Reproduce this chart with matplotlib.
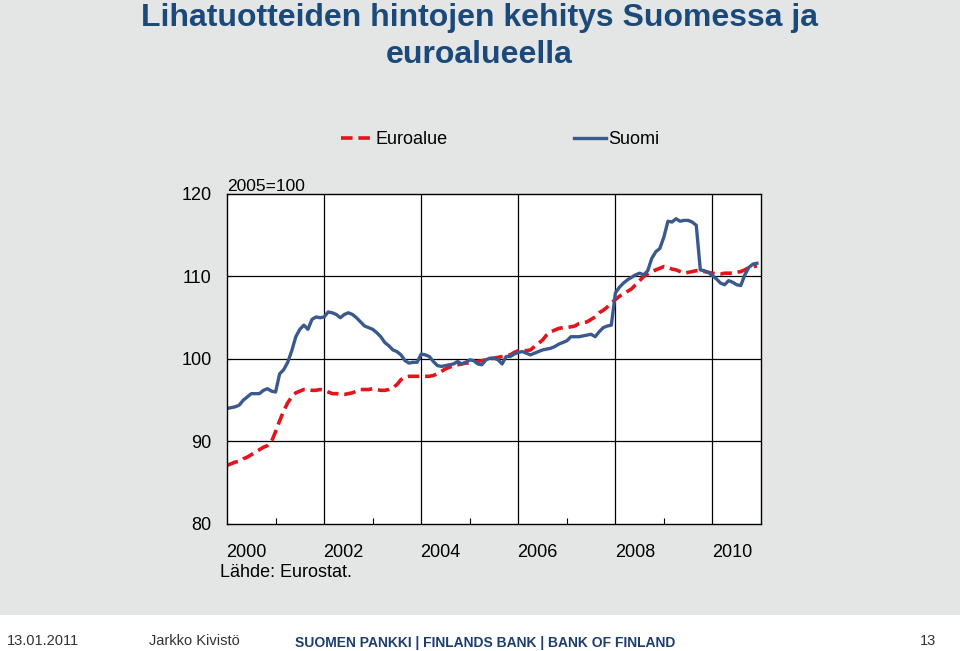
import numpy as np
import matplotlib.pyplot as plt
from matplotlib.patches import Rectangle

plt.rcParams['font.family'] = ['Liberation Sans', 'DejaVu Sans']

# monthly index 2005=100, Jan 2000 - Dec 2010
start_year = 2000
suomi = [94.0, 94.1, 94.2, 94.4, 95.0, 95.4, 95.8, 95.8, 95.8, 96.2, 96.4, 96.1,
         96.0, 98.2, 98.7, 99.6, 101.0, 102.7, 103.6, 104.1, 103.6, 104.8, 105.1, 105.0,
         105.1, 105.7, 105.6, 105.4, 105.0, 105.4, 105.6, 105.4, 105.0, 104.5, 104.0, 103.8,
         103.6, 103.2, 102.7, 102.0, 101.6, 101.1, 100.9, 100.5, 99.8, 99.5, 99.6, 99.6,
         100.6, 100.5, 100.3, 99.7, 99.2, 99.1, 99.2, 99.3, 99.4, 99.7, 99.4, 99.6,
         99.9, 99.8, 99.4, 99.3, 99.9, 100.1, 100.1, 99.9, 99.4, 100.3, 100.3, 100.6,
         100.8, 100.9, 100.7, 100.5, 100.7, 100.9, 101.1, 101.2, 101.3, 101.5, 101.8, 102.0,
         102.2, 102.7, 102.7, 102.7, 102.8, 102.9, 103.0, 102.7, 103.3, 103.8, 104.0, 104.1,
         108.0, 108.7, 109.2, 109.6, 109.9, 110.2, 110.4, 110.2, 110.7, 112.2, 113.0, 113.4,
         114.8, 116.7, 116.6, 117.0, 116.7, 116.8, 116.8, 116.6, 116.2, 110.8, 110.7, 110.5,
         110.1, 109.7, 109.2, 109.0, 109.5, 109.3, 109.0, 108.9, 110.2, 111.1, 111.5, 111.6]
euroalue = [87.1, 87.3, 87.5, 87.6, 87.9, 88.1, 88.4, 88.7, 89.0, 89.3, 89.5, 90.0,
            91.2, 92.5, 93.7, 94.7, 95.4, 95.9, 96.1, 96.3, 96.3, 96.2, 96.2, 96.3,
            96.2, 96.0, 95.8, 95.8, 95.7, 95.7, 95.8, 95.9, 96.1, 96.3, 96.3, 96.3,
            96.4, 96.3, 96.2, 96.2, 96.3, 96.5, 96.9, 97.5, 97.8, 97.9, 97.9, 97.9,
            97.9, 97.9, 97.9, 98.0, 98.2, 98.5, 98.8, 99.0, 99.2, 99.3, 99.4, 99.5,
            99.5, 99.6, 99.7, 99.8, 99.9, 100.0, 100.1, 100.2, 100.3, 100.4, 100.5, 100.8,
            101.0, 101.1, 101.0, 101.1, 101.5, 101.9, 102.3, 102.9, 103.3, 103.5, 103.7, 103.8,
            103.8, 103.9, 104.0, 104.3, 104.4, 104.5, 104.8, 105.1, 105.6, 105.9, 106.3, 106.8,
            107.2, 107.6, 107.9, 108.2, 108.5, 109.0, 109.5, 110.0, 110.3, 110.6, 110.8, 111.0,
            111.2, 111.1, 110.9, 110.8, 110.6, 110.4, 110.5, 110.6, 110.7, 110.7, 110.6, 110.5,
            110.4, 110.3, 110.3, 110.4, 110.4, 110.4, 110.5, 110.6, 110.8, 111.1, 111.2, 111.3]
year_labels = ['2000', '2002', '2004', '2006', '2008', '2010']
y_ticks = [80, 90, 100, 110, 120]

t = start_year + np.arange(len(suomi)) / 12.0

bg = '#e4e5e5'
fig = plt.figure(figsize=(9.6, 6.51), dpi=100, facecolor=bg)
ax = fig.add_axes([0.2365, 0.1951, 0.5562, 0.5069])
ax.set_facecolor('white')

l1, = ax.plot(t, euroalue, color='#e3141b', lw=2.6, ls=(0, (3.2, 1.6)),
              solid_capstyle='butt', label='Euroalue')
l2, = ax.plot(t, suomi, color='#3a5a8e', lw=2.4, label='Suomi')

ax.set_xlim(2000, 2011)
ax.set_ylim(80, 120)
ax.set_yticks(y_ticks)
ax.tick_params(axis='y', direction='in', length=3, labelsize=13, pad=11)
# gridlines every second year, small ticks on the others
for yr in range(2002, 2011, 2):
    ax.axvline(yr, color='black', lw=0.9, zorder=0)
for yv in [90, 100, 110]:
    ax.axhline(yv, color='black', lw=0.9, zorder=0)
ax.set_xticks(range(2001, 2011, 2))
ax.set_xticklabels([])
ax.tick_params(axis='x', direction='in', length=4)
for i, lab in enumerate(year_labels):
    ax.text(2000 + 2 * i + 0.4, -0.085, lab, transform=ax.get_xaxis_transform(),
            ha='center', va='center', fontsize=13)
ax.text(0, 1.022, '2005=100', transform=ax.transAxes, ha='left', va='center',
        fontsize=12.5)
ax.text(-0.013, -0.148, 'Lähde: Eurostat.', transform=ax.transAxes, ha='left',
        va='center', fontsize=13)
for s in ax.spines.values():
    s.set_linewidth(1.0)

fig.legend(handles=[l1, l2], loc='center', bbox_to_anchor=(0.521, 0.785),
           ncol=2, frameon=False, fontsize=13, handlelength=1.8,
           handletextpad=0.1, columnspacing=7.0)

title_col = '#1b4a7a'
fig.text(0.499, 0.960, 'Lihatuotteiden hintojen kehitys Suomessa ja', ha='center',
         va='baseline', fontsize=23, fontweight='bold', color=title_col)
fig.text(0.499, 0.903, 'euroalueella', ha='center', va='baseline', fontsize=23,
         fontweight='bold', color=title_col)

# footer band
fig.patches.append(Rectangle((0, 0), 1, 36 / 651, transform=fig.transFigure,
                             facecolor='white', edgecolor='none', zorder=0))
fig.text(0.007, 0.015, '13.01.2011', fontsize=10.5, color='#333333', va='center')
fig.text(0.155, 0.015, 'Jarkko Kivistö', fontsize=10.5, color='#333333', va='center')
fig.text(0.505, 0.012, 'SUOMEN PANKKI | FINLANDS BANK | BANK OF FINLAND',
         fontsize=10, fontweight='bold', color='#1c3f6e', ha='center', va='center')
fig.text(0.967, 0.015, '13', fontsize=10.5, color='#333333', va='center', ha='center')

fig.savefig('out.png', dpi=100, facecolor=bg)
